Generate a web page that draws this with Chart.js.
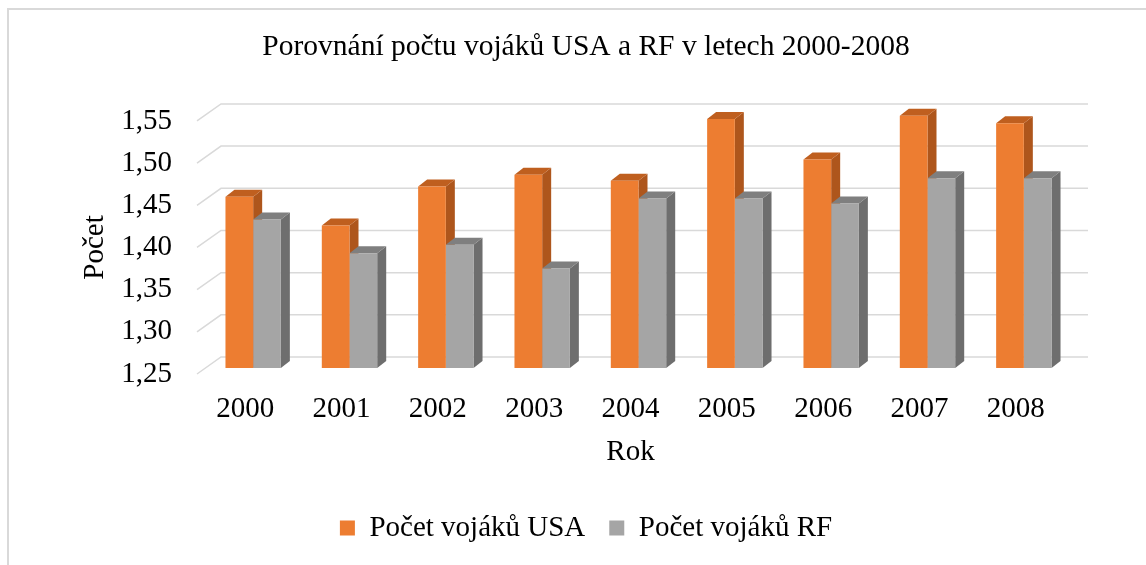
<!DOCTYPE html>
<html>
<head>
<meta charset="utf-8">
<script src="https://cdn.jsdelivr.net/npm/chart.js@4.4.1/dist/chart.umd.min.js"></script>
<style>
  html, body { margin: 0; padding: 0; background: #fff; }
</style>
</head>
<body>
<canvas id="myChart" width="1146" height="565"></canvas>
<script>
const years = ['2000', '2001', '2002', '2003', '2004', '2005', '2006', '2007', '2008'];
const usaSoldiers = [1.453, 1.419, 1.465, 1.479, 1.472, 1.545, 1.497, 1.549, 1.540];
const rfSoldiers = [1.426, 1.386, 1.396, 1.368, 1.451, 1.451, 1.445, 1.475, 1.475];
const yTickLabels = ['1,25', '1,30', '1,35', '1,40', '1,45', '1,50', '1,55'];
const yMin = 1.25;
const yMax = 1.55;

const serif = 'Liberation Serif, Times New Roman, serif';

// 3D look: back wall offset, bar depth
const wall = { dx: 24, dy: -17 };
const barShift = { dx: 8, dy: -6 };
const depth = { dx: 9, dy: -7 };
const sideColors = ['#ae561c', '#6e6e6e'];
const topColors = ['#bf5f1f', '#7f7f7f'];

const frame3d = {
  id: 'frame3d',
  beforeDraw(chart) {
    const ctx = chart.ctx;
    ctx.save();
    ctx.strokeStyle = '#d9d9d9';
    ctx.lineWidth = 2;
    ctx.beginPath();
    ctx.moveTo(8, 565);
    ctx.lineTo(8, 9);
    ctx.lineTo(1146, 9);
    ctx.stroke();
    ctx.restore();
  },
  beforeDatasetsDraw(chart) {
    const ctx = chart.ctx;
    const area = chart.chartArea;
    const y = chart.scales.y;
    ctx.save();
    ctx.strokeStyle = '#d9d9d9';
    ctx.lineWidth = 1.5;
    y.ticks.forEach(t => {
      const py = y.getPixelForValue(t.value);
      ctx.beginPath();
      ctx.moveTo(area.left, py);
      ctx.lineTo(area.left + wall.dx, py + wall.dy);
      ctx.lineTo(area.right + wall.dx, py + wall.dy);
      ctx.stroke();
    });
    ctx.restore();

    // bars are drawn shifted into the box; side + top faces first
    ctx.save();
    ctx.translate(barShift.dx, barShift.dy);
    chart.data.datasets.forEach((ds, di) => {
      const meta = chart.getDatasetMeta(di);
      meta.data.forEach(bar => {
        const p = bar.getProps(['x', 'y', 'base', 'width'], true);
        const x0 = p.x - p.width / 2, x1 = p.x + p.width / 2;
        ctx.fillStyle = sideColors[di];
        ctx.beginPath();
        ctx.moveTo(x1, p.y);
        ctx.lineTo(x1 + depth.dx, p.y + depth.dy);
        ctx.lineTo(x1 + depth.dx, p.base + depth.dy);
        ctx.lineTo(x1, p.base);
        ctx.closePath();
        ctx.fill();
        ctx.fillStyle = topColors[di];
        ctx.beginPath();
        ctx.moveTo(x0, p.y);
        ctx.lineTo(x0 + depth.dx, p.y + depth.dy);
        ctx.lineTo(x1 + depth.dx, p.y + depth.dy);
        ctx.lineTo(x1, p.y);
        ctx.closePath();
        ctx.fill();
      });
    });
  },
  afterDatasetsDraw(chart) {
    chart.ctx.restore();
  }
};

const ctx = document.getElementById('myChart').getContext('2d');
const myChart = new Chart(ctx, {
  type: 'bar',
  data: {
    labels: years,
    datasets: [{
      label: 'Počet vojáků USA',
      data: usaSoldiers,
      backgroundColor: '#ed7d31',
      borderWidth: 0,
      base: yMin,
      clip: false
    }, {
      label: 'Počet vojáků RF',
      data: rfSoldiers,
      backgroundColor: '#a5a5a5',
      borderWidth: 0,
      base: yMin,
      clip: false
    }]
  },
  options: {
    responsive: false,
    animation: false,
    devicePixelRatio: 1,
    layout: { padding: { left: 28, right: 2, top: 0, bottom: 12.5 } },
    datasets: { bar: { barPercentage: 1, categoryPercentage: 0.575 } },
    scales: {
      x: {
        grid: { display: false, drawTicks: false },
        border: { display: false },
        ticks: { color: '#000', padding: 18, font: { family: serif, size: 29 } },
        title: { display: true, text: 'Rok', color: '#000', padding: { top: 0, bottom: 20 }, font: { family: serif, size: 29 } },
        afterFit: s => { s.height = 115.5; }
      },
      y: {
        min: yMin,
        max: yMax,
        grid: { display: false, drawTicks: false },
        border: { display: false },
        ticks: {
          stepSize: 0.05,
          color: '#000',
          padding: 25,
          font: { family: serif, size: 29 },
          callback: (v, i) => yTickLabels[i]
        },
        title: { display: true, text: 'Počet', color: '#000', padding: { top: 50, bottom: 0 }, font: { family: serif, size: 29 } },
        afterFit: s => { s.width = 169; }
      },
      y2: {
        position: 'right',
        grid: { display: false },
        border: { display: false },
        ticks: { display: false },
        afterFit: s => { s.width = 80; }
      }
    },
    plugins: {
      title: {
        display: true,
        text: 'Porovnání počtu vojáků USA a RF v letech 2000-2008',
        color: '#000',
        font: { family: serif, size: 29.5, weight: 'normal' },
        padding: { top: 29.5, bottom: 56 }
      },
      legend: {
        position: 'bottom',
        labels: {
          color: '#000',
          boxWidth: 15,
          boxHeight: 15,
          padding: 24,
          font: { family: serif, size: 29 }
        }
      },
      tooltip: { enabled: false }
    }
  },
  plugins: [frame3d]
});
</script>
</body>
</html>
